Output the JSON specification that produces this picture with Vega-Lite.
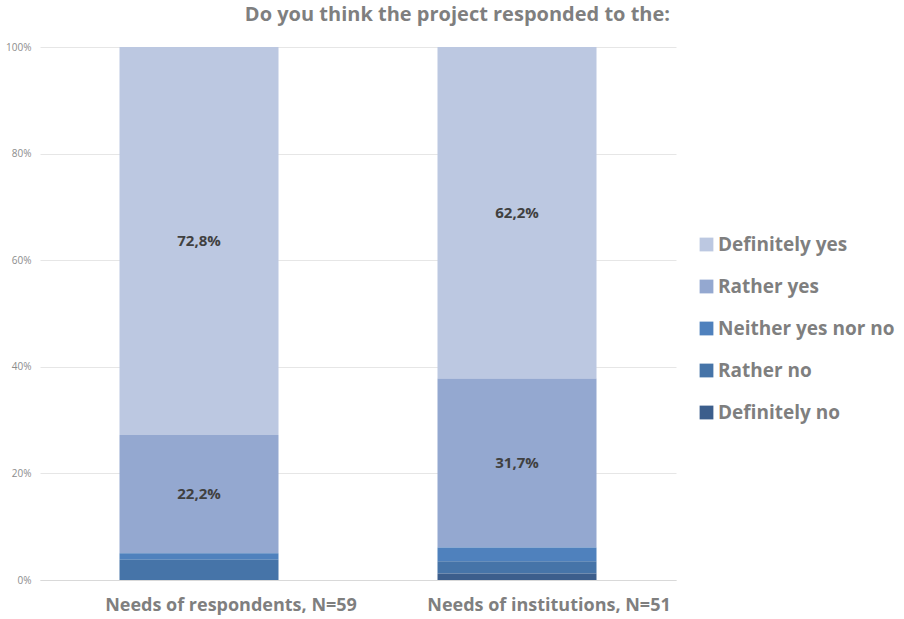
{
  "$schema": "https://vega.github.io/schema/vega-lite/v6.json",
  "width": 636,
  "height": 533,
  "autosize": "none",
  "padding": {"left": 40, "top": 47, "right": 228, "bottom": 39},
  "background": "white",
  "config": {"view": {"stroke": null}, "font": "Open Sans"},
  "title": {
    "text": "Do you think the project responded to the:",
    "anchor": "end",
    "frame": "group",
    "fontSize": 20,
    "fontWeight": "bold",
    "color": "#7f7f7f",
    "font": "Open Sans",
    "offset": 17,
    "dx": -6
  },
  "data": {
    "values": [
      {"group": "Needs of respondents, N=59", "answer": "Definitely  yes", "value": 72.8, "rank": 5, "label": "72,8%"},
      {"group": "Needs of respondents, N=59", "answer": "Rather yes", "value": 22.2, "rank": 4, "label": "22,2%"},
      {"group": "Needs of respondents, N=59", "answer": "Neither yes nor no", "value": 1.2, "rank": 3, "label": ""},
      {"group": "Needs of respondents, N=59", "answer": "Rather  no", "value": 3.8, "rank": 2, "label": ""},
      {"group": "Needs of respondents, N=59", "answer": "Definitely no", "value": 0, "rank": 1, "label": ""},
      {"group": "Needs of institutions, N=51", "answer": "Definitely  yes", "value": 62.2, "rank": 5, "label": "62,2%"},
      {"group": "Needs of institutions, N=51", "answer": "Rather yes", "value": 31.7, "rank": 4, "label": "31,7%"},
      {"group": "Needs of institutions, N=51", "answer": "Neither yes nor no", "value": 2.6, "rank": 3, "label": ""},
      {"group": "Needs of institutions, N=51", "answer": "Rather  no", "value": 2.3, "rank": 2, "label": ""},
      {"group": "Needs of institutions, N=51", "answer": "Definitely no", "value": 1.2, "rank": 1, "label": ""}
    ]
  },
  "layer": [
    {
      "mark": {"type": "bar"},
      "encoding": {
        "x": {
          "field": "group",
          "type": "nominal",
          "sort": null,
          "title": null,
          "scale": {"paddingInner": 0.5, "paddingOuter": 0.25},
          "axis": {
            "labelAngle": 0,
            "labelFontSize": 18,
            "labelFontWeight": "bold",
            "labelColor": "#7f7f7f",
            "labelFont": "Open Sans",
            "labelLimit": 0,
            "labelOffset": 32,
            "ticks": false,
            "domainColor": "#d9d9d9",
            "labelPadding": 16
          }
        },
        "y": {
          "field": "value",
          "type": "quantitative",
          "stack": "zero",
          "title": null,
          "scale": {"domain": [0, 100]},
          "axis": {
            "values": [0, 20, 40, 60, 80, 100],
            "labelExpr": "datum.value + '%'",
            "labelFontSize": 10,
            "labelColor": "#8c8c8c",
            "labelFont": "Open Sans",
            "domain": false,
            "ticks": false,
            "labelPadding": 9,
            "gridColor": "#e6e6e6"
          }
        },
        "order": {"field": "rank", "type": "quantitative"},
        "color": {
          "field": "answer",
          "type": "nominal",
          "scale": {
            "domain": ["Definitely  yes", "Rather yes", "Neither yes nor no", "Rather  no", "Definitely no"],
            "range": ["#bcc8e1", "#94a8d0", "#4f81bd", "#4674a8", "#3c5e8c"]
          },
          "legend": {
            "title": null,
            "orient": "none",
            "legendX": 657,
            "legendY": 188,
            "labelFontSize": 19,
            "labelFontWeight": "bold",
            "labelColor": "#7f7f7f",
            "labelFont": "Open Sans",
            "labelLimit": 0,
            "symbolType": "square",
            "symbolSize": 190,
            "symbolStrokeWidth": 0,
            "rowPadding": 22,
            "labelOffset": 2
          }
        }
      }
    },
    {
      "transform": [
        {"stack": "value", "groupby": ["group"], "sort": [{"field": "rank", "order": "ascending"}], "as": ["v0", "v1"]},
        {"calculate": "(datum.v0 + datum.v1) / 2", "as": "mid"}
      ],
      "mark": {"type": "text", "fontSize": 15, "fontWeight": "bold", "color": "#404040", "font": "Open Sans", "baseline": "middle"},
      "encoding": {
        "x": {"field": "group", "type": "nominal", "sort": null},
        "y": {"field": "mid", "type": "quantitative"},
        "text": {"field": "label"}
      }
    }
  ]
}
